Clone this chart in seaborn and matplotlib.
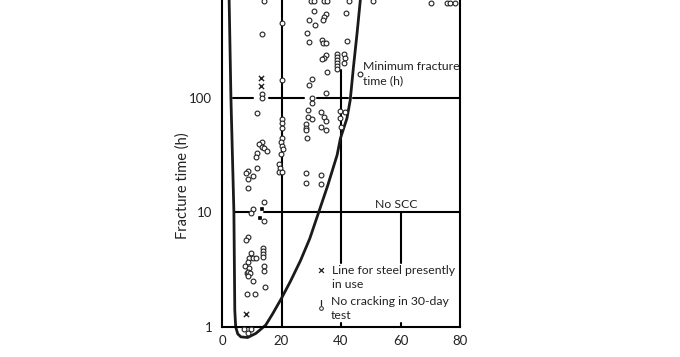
import numpy as np
import pandas as pd
import seaborn as sns
import matplotlib.pyplot as plt
from matplotlib.ticker import FixedLocator, FixedFormatter, NullLocator

# open circles: SCC tests (x = test variable, y = fracture time in h)
circ_x = [14.1, 13.3, 13.6, 13.6, 11.7,
          13.3, 12.3, 13.6, 14.1, 15.0, 11.6, 11.4, 11.6,
          8.8, 8.0, 10.3, 8.6, 8.6, 14.1, 10.3, 9.9, 14.1, 8.6, 8.0,
          13.9, 13.9, 13.9, 13.9, 9.8, 9.1, 10.5, 11.4, 8.8, 7.7,
          9.1, 14.1, 14.1, 8.4, 8.9, 9.5, 8.8, 10.3, 14.5, 8.3, 11.0,
          7.5, 9.9, 8.8,
          20.0, 20.0, 20.0, 20.0, 20.0, 20.0, 19.8, 20.2, 20.6, 19.9,
          19.2, 19.5, 19.2, 20.3,
          29.8, 30.9, 34.2, 35.4, 42.6, 50.7, 70.1, 75.5, 76.8, 78.2,
          30.9, 34.8, 34.4, 34.0, 41.7, 29.2, 31.1, 28.7, 29.4,
          33.7, 34.0, 35.1, 42.0, 35.1, 34.2, 33.7,
          38.5, 38.5, 38.5, 38.5, 38.5, 38.5, 40.9, 41.5, 40.9,
          35.4, 46.5, 30.3, 29.2, 34.8, 30.1, 30.1, 29.0,
          33.3, 34.4, 34.8, 28.9, 30.3, 28.4, 28.4, 28.4, 33.3, 34.8,
          28.7, 39.8, 41.5, 39.8, 40.0, 28.4, 28.4, 33.3, 33.3]
circ_y = [700, 358, 107, 98.5, 73,
          41.3, 39.2, 37.3, 36.1, 34.4, 33.1, 30.2, 24.5,
          23.0, 21.9, 20.6, 19.5, 16.2, 12.4, 10.7, 9.8, 8.4, 6.1, 5.7,
          4.9, 4.6, 4.3, 4.1, 4.44, 4.02, 4.02, 4.02, 3.71, 3.42,
          3.25, 3.40, 3.08, 2.94, 2.99, 2.94, 2.80, 2.52, 2.25, 1.93, 1.93,
          0.97, 0.97, 0.88,
          450, 141, 65, 59.7, 54.7, 44.2, 40.8, 38.1, 35.4, 32.0,
          26.4, 24.5, 22.6, 22.6,
          695, 695, 695, 695, 695, 690, 672, 672, 672, 672,
          569, 536, 501, 475, 550, 475, 430, 364, 303,
          318, 301, 301, 310, 235, 220, 216,
          238, 224, 211, 199, 187, 177, 238, 220, 199,
          168, 161, 145, 129, 109, 98.6, 90.3, 78.5,
          74.5, 68.2, 62.5, 68.2, 65.1, 58.5, 54.7, 52.2, 55.5, 52.2,
          44.7, 76.4, 75.0, 66.8, 55.1, 21.9, 18.1, 21.1, 17.8]

# x: line for steel presently in use
cross_x = [13.0, 13.0, 8.0]
cross_y = [149, 126, 1.29]

# filled squares
sq_x = [13.6, 12.8]
sq_y = [10.7, 8.87]

# minimum fracture time envelope
env_x = [2.4, 3.0, 4.0, 4.3, 4.6, 5.3, 6.35, 8.6, 11.4, 14.7, 17.0, 20.0,
         23.0, 26.4, 29.5, 32.5, 35.5, 38.7, 39.8, 42.0, 43.1, 44.2, 45.4, 46.5]
env_y = [709, 100, 10, 1.4, 1.0, 0.87, 0.82, 0.81, 0.88, 1.04, 1.3, 1.78,
         2.5, 3.8, 5.9, 10, 17, 31.6, 44, 66, 95, 186, 364, 709]

x_ticks = [0, 20, 40, 60, 80]
y_ticks = [1, 10, 100]
y_labels = ["1", "10", "100"]

sns.set_style("white")
plt.rcParams['font.family'] = ['Lato', 'DejaVu Sans']

fig = plt.figure(figsize=(6.8, 3.57), dpi=100)
ax = fig.add_axes([222 / 680, 1 - 327 / 357, 238 / 680, 327 / 357])
ax.set_yscale('log')
ax.set_xlim(0, 80)
ax.set_ylim(1, 709)

lw = 1.5
# reference lines (drawn with gaps like the original)
for a, b in [(3.8, 10.3), (15.8, 27.4), (32.0, 42.5), (44.2, 80)]:
    ax.plot([a, b], [100, 100], color='black', lw=lw, zorder=1)
for a, b in [(4.2, 9.0), (14.0, 80)]:
    ax.plot([a, b], [10, 10], color='black', lw=lw, zorder=1)
ax.plot([20, 20], [1, 709], color='black', lw=lw, zorder=1)
ax.plot([40, 40], [3.6, 174], color='black', lw=lw, zorder=1)
ax.plot([60, 60], [3.6, 10], color='black', lw=lw, zorder=1)
for xv in [40, 60]:
    ax.plot([xv, xv], [1, 1.08], color='black', lw=lw, zorder=1)

env = pd.DataFrame({'x': env_x, 'y': env_y})
sns.lineplot(data=env, x='x', y='y', sort=False, estimator=None, color='#1a1a1a',
             lw=2.0, ax=ax, clip_on=False, zorder=2)

sns.scatterplot(x=circ_x, y=circ_y, marker='o', s=12, facecolor='white',
                edgecolor='#222222', linewidth=0.8, ax=ax, clip_on=False, zorder=3)
sns.scatterplot(x=cross_x, y=cross_y, marker='x', s=14, color='#222222',
                linewidth=1.0, ax=ax, zorder=3)
sns.scatterplot(x=sq_x, y=sq_y, marker='s', s=8, color='black', ax=ax, zorder=3)

# annotations
fs = 8.8
ax.text(47.5, 162, "Minimum fracture\ntime (h)", fontsize=fs, va='center',
        ha='left', linespacing=1.3, color='#222222')
ax.text(58.5, 11.8, "No SCC", fontsize=fs, va='center', ha='center', color='#222222')
sns.scatterplot(x=[33.4], y=[3.14], marker='x', s=12, color='#222222',
                linewidth=0.9, ax=ax, zorder=3)
ax.text(37.1, 2.70, "Line for steel presently\nin use", fontsize=fs, va='center',
        ha='left', linespacing=1.3, color='#222222')
ax.plot([33.3, 33.3], [1.56, 1.72], color='#222222', lw=0.9)
sns.scatterplot(x=[33.3], y=[1.46], marker='o', s=7, facecolor='white',
                edgecolor='#222222', linewidth=0.7, ax=ax, zorder=3)
ax.text(36.7, 1.44, "No cracking in 30-day\ntest", fontsize=fs, va='center',
        ha='left', linespacing=1.3, color='#222222')

for side in ['left', 'bottom', 'right']:
    ax.spines[side].set_linewidth(lw)
    ax.spines[side].set_color('black')
ax.spines['top'].set_visible(False)

ax.xaxis.set_major_locator(FixedLocator(x_ticks))
ax.yaxis.set_major_locator(FixedLocator(y_ticks))
ax.yaxis.set_major_formatter(FixedFormatter(y_labels))
ax.yaxis.set_minor_locator(NullLocator())
ax.tick_params(axis='both', length=0, labelsize=9.5, colors='#222222')
ax.tick_params(axis='x', pad=6)
ax.tick_params(axis='y', pad=7)
ax.set_xlabel('')
ax.set_ylabel('')

fig.text(183 / 680, 1 - 186 / 357, "Fracture time (h)", rotation=90, fontsize=10.5,
         va='center', ha='center', color='#222222')

fig.savefig("out.png", dpi=100, facecolor='white')
